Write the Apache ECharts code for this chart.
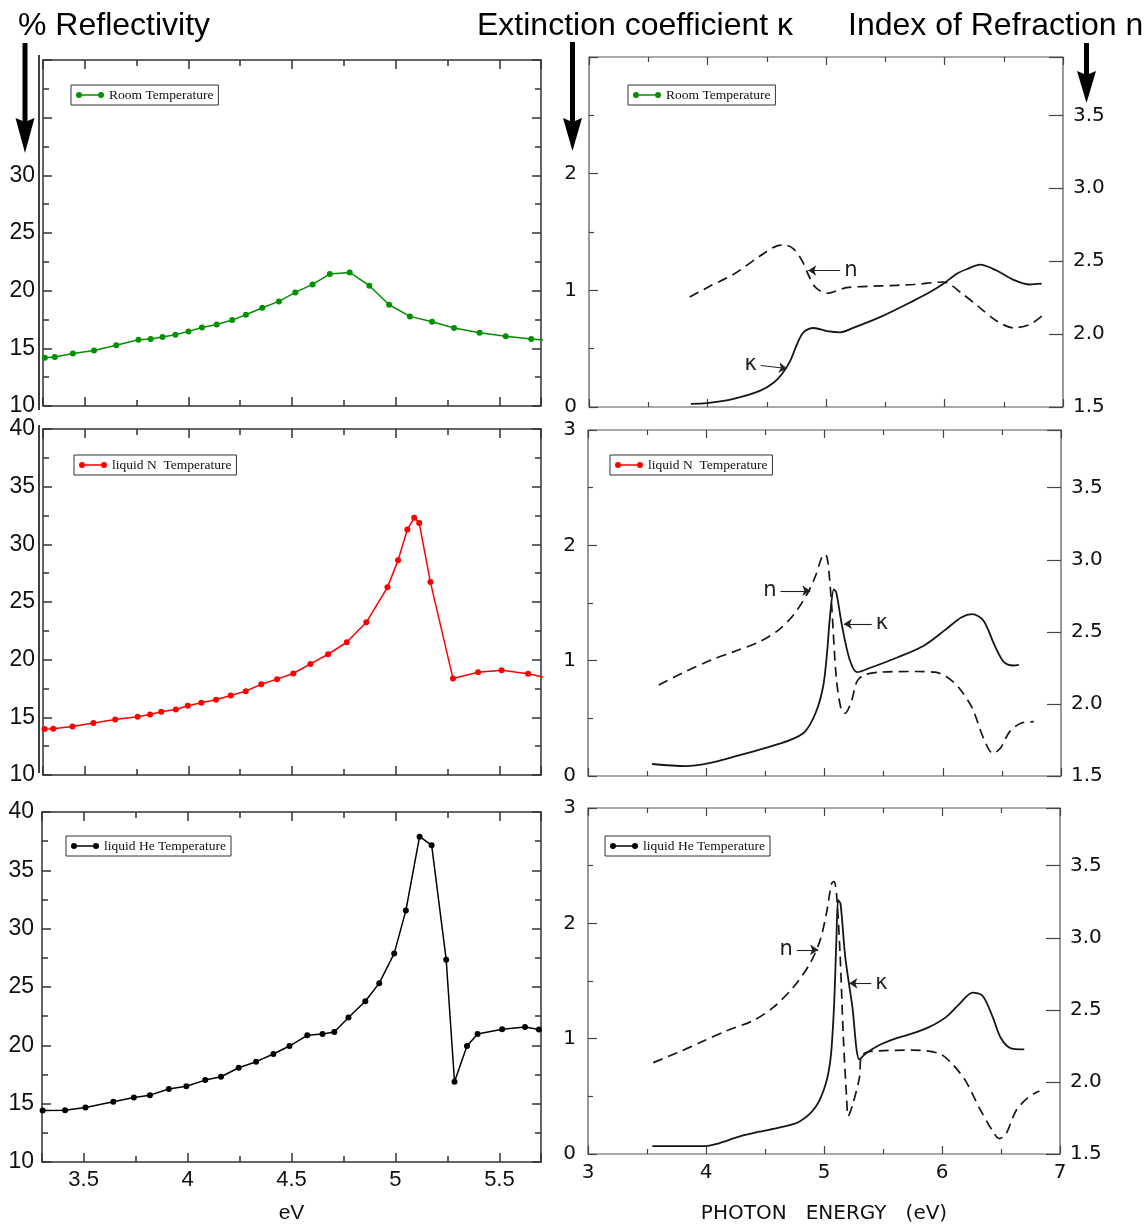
<!DOCTYPE html>
<html><head><meta charset="utf-8">
<script src="https://cdn.jsdelivr.net/npm/echarts/dist/echarts.min.js"></script>
<style>html,body{margin:0;padding:0;background:#fff}#c{width:1146px;height:1225px}</style>
</head><body><div id="c"></div>
<script>
// ---------------- DATA ----------------
// Left: % reflectivity vs photon energy (eV)
const roomE = [3.309,3.357,3.444,3.546,3.653,3.760,3.819,3.876,3.938,4.001,4.066,4.137,4.212,4.278,4.357,4.437,4.516,4.599,4.682,4.778,4.873,4.968,5.068,5.175,5.281,5.404,5.530,5.653,5.78];
const roomR = [14.19,14.24,14.56,14.82,15.26,15.75,15.80,15.98,16.18,16.47,16.81,17.07,17.45,17.91,18.52,19.07,19.85,20.54,21.44,21.58,20.43,18.78,17.77,17.31,16.76,16.35,16.04,15.80,15.65];
const nitroE = [3.307,3.349,3.442,3.543,3.648,3.756,3.816,3.870,3.940,3.998,4.063,4.134,4.205,4.277,4.352,4.428,4.506,4.589,4.674,4.764,4.858,4.960,5.011,5.056,5.089,5.113,5.167,5.276,5.397,5.510,5.638,5.76];
const nitroR = [13.98,14.01,14.21,14.50,14.82,15.05,15.25,15.48,15.68,16.00,16.26,16.52,16.89,17.27,17.87,18.31,18.80,19.63,20.47,21.51,23.24,26.27,28.61,31.29,32.30,31.86,26.73,18.36,18.91,19.09,18.77,18.3];
const heliumE = [3.303,3.411,3.509,3.643,3.742,3.819,3.910,3.994,4.085,4.161,4.246,4.330,4.413,4.490,4.576,4.649,4.706,4.774,4.855,4.922,4.994,5.050,5.116,5.174,5.244,5.284,5.344,5.395,5.513,5.623,5.690];
const heliumR = [14.41,14.44,14.67,15.16,15.53,15.73,16.25,16.50,17.02,17.31,18.08,18.60,19.26,19.94,20.86,20.97,21.15,22.38,23.78,25.33,27.88,31.55,37.88,37.16,27.34,16.88,19.94,20.97,21.38,21.58,21.35];

// Right: extinction coefficient kappa and index of refraction n vs photon energy (eV)
const roomKappaE = [3.86,3.995,4.22,4.446,4.56,4.63,4.70,4.756,4.81,4.897,5.01,5.12,5.235,5.455,5.737,5.878,6.0,6.104,6.2,6.30,6.44,6.583,6.72,6.82];
const roomKappa  = [0.027,0.033,0.07,0.14,0.21,0.285,0.40,0.54,0.64,0.677,0.65,0.64,0.68,0.77,0.91,0.985,1.063,1.143,1.186,1.22,1.17,1.09,1.05,1.057];
const roomNE = [3.85,4.023,4.22,4.446,4.587,4.657,4.728,4.80,4.855,4.911,5.01,5.173,5.455,5.737,5.99,6.16,6.30,6.44,6.583,6.72,6.837];
const roomN  = [2.254,2.33,2.41,2.537,2.605,2.61,2.583,2.50,2.40,2.32,2.28,2.318,2.33,2.34,2.357,2.27,2.18,2.09,2.043,2.066,2.134];

const nitroKappaE = [3.542,3.825,4.014,4.235,4.487,4.707,4.833,4.928,4.99,5.022,5.047,5.079,5.10,5.148,5.211,5.274,5.40,5.62,5.84,6.03,6.156,6.25,6.345,6.44,6.518,6.597,6.644];
const nitroKappa  = [0.104,0.086,0.109,0.167,0.239,0.311,0.383,0.555,0.785,1.073,1.389,1.619,1.59,1.303,1.015,0.90,0.943,1.03,1.13,1.274,1.375,1.404,1.346,1.13,0.987,0.958,0.964];
const nitroNE = [3.598,3.825,4.046,4.235,4.455,4.613,4.739,4.865,4.928,4.975,5.006,5.028,5.06,5.10,5.142,5.173,5.227,5.274,5.337,5.463,5.778,5.935,6.03,6.14,6.25,6.345,6.424,6.487,6.566,6.66,6.77];
const nitroN  = [2.132,2.225,2.306,2.363,2.433,2.514,2.618,2.78,2.896,3.012,3.039,2.988,2.687,2.178,1.958,1.935,2.016,2.155,2.201,2.22,2.225,2.22,2.19,2.109,1.97,1.762,1.657,1.692,1.808,1.866,1.877];

const heliumKappaE = [3.545,3.997,4.11,4.28,4.45,4.62,4.79,4.93,5.015,5.057,5.085,5.105,5.12,5.14,5.18,5.24,5.30,5.356,5.47,5.61,5.75,5.89,6.034,6.146,6.26,6.345,6.43,6.50,6.585,6.697];
const heliumKappa  = [0.069,0.069,0.093,0.15,0.193,0.228,0.28,0.41,0.61,0.84,1.28,1.855,2.20,2.17,1.71,1.28,0.82,0.873,0.945,1.003,1.045,1.10,1.187,1.30,1.40,1.37,1.187,1.003,0.916,0.907];
const heliumNE = [3.553,3.75,3.95,4.175,4.40,4.57,4.74,4.88,4.966,5.02,5.065,5.085,5.106,5.136,5.164,5.19,5.206,5.243,5.30,5.314,5.356,5.47,5.75,5.977,6.09,6.20,6.316,6.43,6.485,6.54,6.627,6.726,6.825];
const heliumN  = [2.134,2.20,2.273,2.355,2.425,2.517,2.657,2.82,2.98,3.167,3.377,3.389,3.307,2.889,2.308,1.913,1.763,1.843,2.03,2.169,2.204,2.216,2.22,2.197,2.122,2.007,1.82,1.658,1.607,1.635,1.80,1.89,1.937];

// annotation arrows: [label, startE, startKappa, endE, endKappa]
const roomNotes   = [['n',5.12,1.17,4.85,1.17],['κ',4.45,0.356,4.67,0.33]];
const nitroNotes  = [['n',4.628,1.606,4.88,1.606],['κ',5.40,1.318,5.164,1.318]];
const heliumNotes = [['n',4.77,1.77,4.95,1.77],['κ',5.40,1.48,5.215,1.48]];

const seriesNames = ['Room Temperature','liquid N  Temperature','liquid He Temperature'];

// ---------------- CHART ----------------
const SANS = "'Liberation Sans', Arial, sans-serif";
const SERIF = "'Liberation Serif', 'Times New Roman', serif";
const SCAN = "'DejaVu Sans', 'Liberation Sans', sans-serif";
const zip = (a, b) => a.map((v, i) => [v, b[i]]);

const gridsPos = [
  {left:43, top:60, width:498, height:346},
  {left:43, top:429, width:498, height:346},
  {left:42, top:812, width:499, height:350},
  {left:589, top:57, width:474, height:350},
  {left:588, top:430, width:473, height:346},
  {left:588, top:808, width:472, height:346}
];
const grid = gridsPos.map((g, i) => Object.assign({show:true, borderColor: i<3 ? '#333' : '#555', borderWidth: i<3 ? 1.5 : 1.2, backgroundColor:'transparent'}, g));

const xAxis = [], yAxis = [];
for (let p = 0; p < 6; p++) {
  const left = p < 3;
  const col = left ? '#333' : '#444';
  const lw = left ? 1.5 : 1.2;
  const base = left
    ? {min:3.3, max:5.7, minInterval:0.5, maxInterval:0.5, splitNumber:5}
    : {min:3, max:7, interval:1};
  const showLab = (p === 2 || p === 5);
  xAxis.push(Object.assign({
    gridIndex:p, type:'value', position:'bottom',
    axisLine:{show:false},
    axisTick:{show:true, inside:true, length: left ? 9 : 8, lineStyle:{color:col, width:lw}},
    minorTick:{show:true, splitNumber:2, length: left ? 6 : 5, lineStyle:{color:col, width:lw}},
    splitLine:{show:false}, minorSplitLine:{show:false},
    axisLabel:{show:showLab, fontSize: left ? 22 : 20, color:'#111', fontFamily: left ? SANS : SCAN,
      margin: left ? 7 : 9, showMinLabel: !left, showMaxLabel: !left},
    name: p === 2 ? 'eV' : (p === 5 ? 'PHOTON   ENERGY   (eV)' : ''),
    nameLocation:'middle', nameGap: p === 2 ? 41 : 50,
    nameTextStyle:{fontSize: p === 2 ? 21 : 20, color:'#111', fontFamily: p === 2 ? SANS : SCAN}
  }, base));
  xAxis.push(Object.assign({
    gridIndex:p, type:'value', position:'top',
    axisLine:{show:false},
    axisTick:{show:true, inside:true, length: left ? 9 : 8, lineStyle:{color:col, width:lw}},
    minorTick:{show:true, splitNumber:2, length: left ? 6 : 5, lineStyle:{color:col, width:lw}},
    splitLine:{show:false}, axisLabel:{show:false}
  }, base));
  if (left) {
    yAxis.push({gridIndex:p, type:'value', min:10, max:40, interval:5, position:'left',
      axisLine:{show:false},
      axisTick:{show:true, inside:true, length:9, lineStyle:{color:col, width:lw}},
      minorTick:{show:true, splitNumber:2, length:6, lineStyle:{color:col, width:lw}},
      splitLine:{show:false}, minorSplitLine:{show:false},
      axisLabel:{fontSize:23, color:'#111', fontFamily:SANS, margin:8,
        formatter: v => (p === 0 && v > 30) ? '' : String(v)}});
    yAxis.push({gridIndex:p, type:'value', min:10, max:40, interval:5, position:'right',
      axisLine:{show:false},
      axisTick:{show:true, inside:true, length:9, lineStyle:{color:col, width:lw}},
      minorTick:{show:true, splitNumber:2, length:6, lineStyle:{color:col, width:lw}},
      splitLine:{show:false}, axisLabel:{show:false}});
  } else {
    yAxis.push({gridIndex:p, type:'value', min:0, max:3, interval:1, position:'left',
      axisLine:{show:false},
      axisTick:{show:true, inside:true, length:9, lineStyle:{color:col, width:lw}},
      minorTick:{show:true, splitNumber:2, length:5, lineStyle:{color:col, width:lw}},
      splitLine:{show:false}, minorSplitLine:{show:false},
      axisLabel:{fontSize:20, color:'#111', fontFamily:SCAN, margin:12,
        formatter: v => (p === 3 && v >= 3) ? '' : String(v)}});
    yAxis.push({gridIndex:p, type:'value', min:1.5, max:3.9, interval:0.5, position:'right',
      axisLine:{show:false},
      axisTick:{show:true, inside:true, length:14, lineStyle:{color:col, width:lw}},
      splitLine:{show:false},
      axisLabel:{fontSize:20, color:'#111', fontFamily:SCAN, margin:10,
        formatter: v => v > 3.6 ? '' : v.toFixed(1)}});
  }
}

const reflColors = ['#009000', '#ff0000', '#000000'];
const reflData = [zip(roomE, roomR), zip(nitroE, nitroR), zip(heliumE, heliumR)];
const kappaData = [zip(roomKappaE, roomKappa), zip(nitroKappaE, nitroKappa), zip(heliumKappaE, heliumKappa)];
const nData = [zip(roomNE, roomN), zip(nitroNE, nitroN), zip(heliumNE, heliumN)];
const notes = [roomNotes, nitroNotes, heliumNotes];

const series = [];
for (let i = 0; i < 3; i++) {
  series.push({
    name: seriesNames[i], type:'line', xAxisIndex: 2*i, yAxisIndex: 2*i,
    data: reflData[i], symbol:'circle', symbolSize:6, showSymbol:true,
    lineStyle:{color: reflColors[i], width:1.5}, itemStyle:{color: reflColors[i]},
    emphasis:{disabled:true}, clip:true
  });
}
for (let i = 0; i < 3; i++) {
  const p = i + 3;
  series.push({
    name:'κ ' + i, type:'line', xAxisIndex: 2*p, yAxisIndex: 2*p,
    data: kappaData[i], symbol:'none', smooth:0.3,
    lineStyle:{color:'#161616', width:1.8}, emphasis:{disabled:true},
    markLine:{
      silent:true, symbol:['none','arrow'], symbolSize:8, animation:false,
      lineStyle:{color:'#222', width:1.1, type:'solid'},
      emphasis:{disabled:true},
      data: notes[i].map(n => [
        {coord:[n[1], n[2]], label:{show:true, position:'start', formatter:n[0], fontSize:21, color:'#222', fontFamily:SCAN, distance:4}},
        {coord:[n[3], n[4]]}
      ])
    }
  });
  series.push({
    name:'n ' + i, type:'line', xAxisIndex: 2*p, yAxisIndex: 2*p + 1,
    data: nData[i], symbol:'none', smooth:0.3,
    lineStyle:{color:'#161616', width:1.7, type:[10,6]}, emphasis:{disabled:true}
  });
}

const ICON = 'path://M0,3a3,3 0 1,0 6,0a3,3 0 1,0 -6,0Z M22,3a3,3 0 1,0 6,0a3,3 0 1,0 -6,0Z M6,2.3L22,2.3L22,3.7L6,3.7Z';
const legendPos = [
  [0, 71, 85], [1, 74, 455], [2, 66, 836],
  [0, 628, 85], [1, 610, 455], [2, 605, 836]
];
const legend = legendPos.map(l => ({
  data:[{name: seriesNames[l[0]], icon: ICON}],
  left: l[1], top: l[2], orient:'horizontal',
  itemWidth:28, itemHeight:6, selectedMode:false,
  borderColor:'#333', borderWidth:1, padding:[3,5,3,5], backgroundColor:'#fff',
  textStyle:{fontFamily:SERIF, fontSize:13.5, color:'#111'}
}));

const title = [
  {text:'% Reflectivity', left:18, top:10},
  {text:'Extinction coefficient κ', left:477, top:10},
  {text:'Index of Refraction n', left:848, top:10}
].map(t => Object.assign({padding:0, textStyle:{fontSize:32, fontWeight:'normal', color:'#000', fontFamily:SANS}}, t));

function arrow(cx, top, headTop, tip, half) {
  return [
    {type:'rect', shape:{x:cx-2.5, y:top, width:5, height:headTop - top + 4}, style:{fill:'#000'}},
    {type:'polygon', shape:{points:[[cx-half, headTop],[cx, headTop+4],[cx+half, headTop],[cx, tip]]}, style:{fill:'#000'}}
  ];
}
const graphic = [].concat(
  arrow(25, 43, 118, 153, 9.5),
  arrow(572.5, 42, 118, 151, 9.5),
  arrow(1086.5, 43, 71, 103, 9.5),
  [
    {type:'line', shape:{x1:39, y1:55, x2:39, y2:410}, style:{stroke:'#000', lineWidth:1.5}},
    {type:'line', shape:{x1:39, y1:425, x2:39, y2:773}, style:{stroke:'#000', lineWidth:1.5}}
  ]
);

const chart = echarts.init(document.getElementById('c'), null, {renderer:'canvas'});
chart.setOption({
  animation:false, backgroundColor:'#fff',
  title, legend, grid, xAxis, yAxis, series, graphic
});
</script></body></html>
